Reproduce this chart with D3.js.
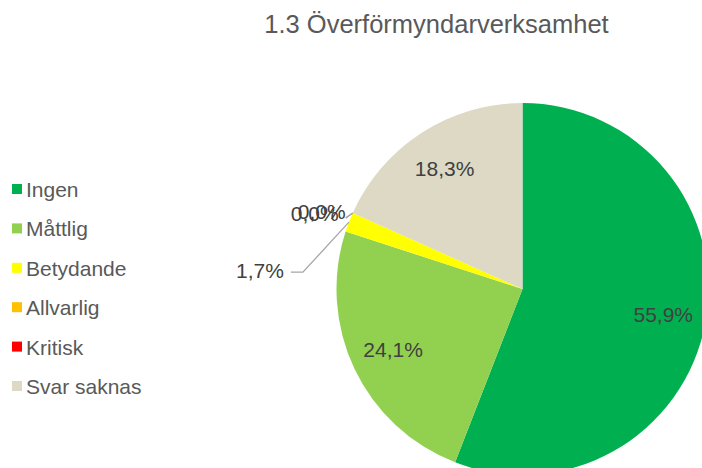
<!DOCTYPE html>
<html>
<head>
<meta charset="utf-8">
<script src="https://d3js.org/d3.v7.min.js"></script>
<style>
  body { margin: 0; background: #fff; }
  text { font-family: "Liberation Sans", Arial, sans-serif; }
</style>
</head>
<body>
<script>
// chart data
var categories = ["Ingen", "Måttlig", "Betydande", "Allvarlig", "Kritisk", "Svar saknas"];
var values = [55.9, 24.1, 1.7, 0.0, 0.0, 18.3];
var colors = ["#00B050", "#92D050", "#FFFF00", "#FFC000", "#FF0000", "#DDD9C4"];
var title = "1.3 Överförmyndarverksamhet";

var width = 702, height = 468;
var cx = 522.5, cy = 289, R = 186;

var svg = d3.select("body").append("svg")
    .attr("width", width)
    .attr("height", height);

svg.append("text")
    .attr("x", 436.5)
    .attr("y", 33)
    .attr("text-anchor", "middle")
    .attr("font-size", 25.5)
    .attr("fill", "#595959")
    .text(title);

var data = categories.map(function(c, i) { return { name: c, value: values[i], color: colors[i] }; });

var pie = d3.pie().sort(null).value(function(d) { return d.value; });
var arcs = pie(data);

var arc = d3.arc().innerRadius(0).outerRadius(R);
var labelArc = d3.arc().innerRadius(R * 0.77).outerRadius(R * 0.77);
var edgeArc = d3.arc().innerRadius(R).outerRadius(R);

var g = svg.append("g").attr("transform", "translate(" + cx + "," + cy + ")");

g.selectAll("path.slice")
  .data(arcs)
  .enter().append("path")
    .attr("class", "slice")
    .attr("d", arc)
    .attr("fill", function(d) { return d.data.color; });

var fmt = function(v) { return d3.format(".1f")(v).replace(".", ",") + "%"; };

// large slices: label inside
var big = arcs.filter(function(d) { return d.data.value >= 5; });
g.selectAll("text.inner")
  .data(big)
  .enter().append("text")
    .attr("class", "inner")
    .attr("transform", function(d) {
      var c = labelArc.centroid(d);
      return "translate(" + c[0] + "," + (c[1] + 7) + ")";
    })
    .attr("text-anchor", "middle")
    .attr("font-size", 21)
    .attr("fill", "#404040")
    .text(function(d) { return fmt(d.data.value); });

// small slice (1,7%) with leader line
var small = arcs.filter(function(d) { return d.data.value > 0 && d.data.value < 5; });
small.forEach(function(d) {
  var p = edgeArc.centroid(d);
  var elbow = [p[0] - 46, p[1] + 50];
  var end = [elbow[0] - 12, elbow[1]];
  g.append("polyline")
    .attr("points", [p, elbow, end].map(function(q) { return q.join(","); }).join(" "))
    .attr("fill", "none")
    .attr("stroke", "#A6A6A6")
    .attr("stroke-width", 1.3);
  g.append("text")
    .attr("x", end[0] - 7)
    .attr("y", end[1] + 6)
    .attr("text-anchor", "end")
    .attr("font-size", 21)
    .attr("fill", "#404040")
    .text(fmt(d.data.value));
});

// zero slices: overlapping labels at the slice edge (as in the original)
var zero = arcs.filter(function(d) { return d.data.value === 0; });
zero.forEach(function(d, i) {
  var a = d.startAngle;
  var p = [R * Math.sin(a), -R * Math.cos(a)];
  g.append("line")
    .attr("x1", p[0]).attr("y1", p[1])
    .attr("x2", p[0] - 7).attr("y2", p[1] + 5)
    .attr("stroke", "#A6A6A6")
    .attr("stroke-width", 1.3);
  g.append("text")
    .attr("x", p[0] - 62 + i * 7)
    .attr("y", p[1] + 8 - i * 2)
    .attr("font-size", 21)
    .attr("fill", "#404040")
    .text(fmt(d.data.value));
});

// legend
var legend = svg.append("g").attr("transform", "translate(12,184)");
var rows = legend.selectAll("g")
  .data(data)
  .enter().append("g")
    .attr("transform", function(d, i) { return "translate(0," + (i * 39.4) + ")"; });
rows.append("rect")
    .attr("width", 10).attr("height", 10)
    .attr("fill", function(d) { return d.color; });
rows.append("text")
    .attr("x", 14)
    .attr("y", 13)
    .attr("font-size", 21)
    .attr("fill", "#595959")
    .text(function(d) { return d.name; });
</script>
</body>
</html>
